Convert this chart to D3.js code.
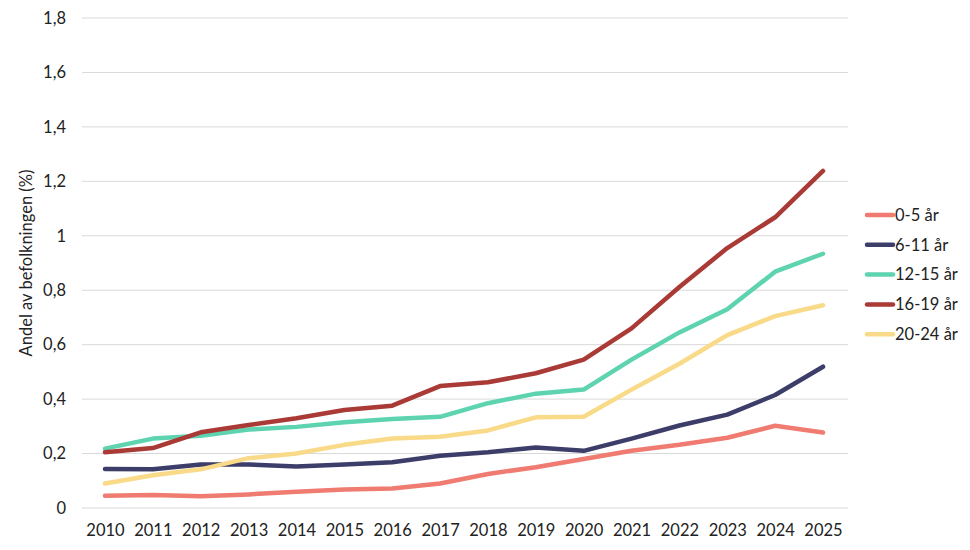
<!DOCTYPE html>
<html>
<head>
<meta charset="utf-8">
<script src="https://cdn.jsdelivr.net/npm/d3@7"></script>
<style>
  body { margin: 0; background: #fff; }
  svg { font-family: Lato, "Open Sans", sans-serif; }
  .tick text { font-size: 16.5px; fill: #222; }
</style>
</head>
<body>
<svg id="chart" width="970" height="550"></svg>
<script>
const YEARS = [2010, 2011, 2012, 2013, 2014, 2015, 2016, 2017, 2018, 2019, 2020, 2021, 2022, 2023, 2024, 2025];
const AGE_0_5 = [0.045, 0.048, 0.043, 0.05, 0.06, 0.068, 0.072, 0.09, 0.125, 0.15, 0.18, 0.21, 0.232, 0.258, 0.302, 0.277];
const AGE_6_11 = [0.143, 0.142, 0.16, 0.16, 0.152, 0.16, 0.168, 0.192, 0.205, 0.222, 0.21, 0.255, 0.303, 0.343, 0.415, 0.519];
const AGE_12_15 = [0.218, 0.255, 0.265, 0.288, 0.298, 0.315, 0.327, 0.335, 0.385, 0.42, 0.435, 0.545, 0.645, 0.73, 0.868, 0.934];
const AGE_16_19 = [0.205, 0.22, 0.278, 0.305, 0.33, 0.36, 0.376, 0.448, 0.462, 0.495, 0.545, 0.66, 0.812, 0.955, 1.068, 1.238];
const AGE_20_24 = [0.09, 0.12, 0.142, 0.183, 0.2, 0.232, 0.255, 0.262, 0.285, 0.333, 0.335, 0.435, 0.53, 0.635, 0.705, 0.745];
const Y_TICKS = [0, 0.2, 0.4, 0.6, 0.8, 1, 1.2, 1.4, 1.6, 1.8];

const series = [
  { name: "0-5 år", values: AGE_0_5, color: "#ef7b71" },
  { name: "6-11 år", values: AGE_6_11, color: "#3c3d69" },
  { name: "12-15 år", values: AGE_12_15, color: "#5dd3b0" },
  { name: "16-19 år", values: AGE_16_19, color: "#a93a35" },
  { name: "20-24 år", values: AGE_20_24, color: "#f9da88" }
];

const svg = d3.select("#chart");
const plot = { left: 82, right: 848, top: 18, bottom: 508 };

const x = d3.scalePoint().domain(YEARS).range([105, 823]);
const y = d3.scaleLinear().domain([0, 1.8]).range([plot.bottom, plot.top]);

// gridlines
svg.append("g")
  .selectAll("line")
  .data(Y_TICKS)
  .join("line")
  .attr("x1", plot.left).attr("x2", plot.right)
  .attr("y1", d => y(d)).attr("y2", d => y(d))
  .attr("stroke", "#d9d9d9")
  .attr("stroke-width", 1);

const fmt = d => String(d).replace(".", ",");

const yAxis = svg.append("g")
  .attr("transform", `translate(${plot.left},0)`)
  .call(d3.axisLeft(y).tickValues(Y_TICKS).tickFormat(fmt).tickSize(0).tickPadding(16));
yAxis.select(".domain").remove();
yAxis.selectAll("text").attr("font-family", "Lato, sans-serif");

const xAxis = svg.append("g")
  .attr("transform", `translate(0,${plot.bottom})`)
  .call(d3.axisBottom(x).tickSize(0).tickPadding(16).tickFormat(d3.format("d")));
xAxis.select(".domain").remove();
xAxis.selectAll("text").attr("font-family", "Lato, sans-serif");

svg.append("text")
  .attr("transform", `translate(32,${(plot.top + plot.bottom) / 2}) rotate(-90)`)
  .attr("text-anchor", "middle")
  .attr("font-size", 16.5)
  .attr("fill", "#222")
  .text("Andel av befolkningen (%)");

const line = d3.line()
  .x((d, i) => x(YEARS[i]))
  .y(d => y(d));

svg.append("g")
  .selectAll("path")
  .data(series)
  .join("path")
  .attr("d", d => line(d.values))
  .attr("fill", "none")
  .attr("stroke", d => d.color)
  .attr("stroke-width", 4.5)
  .attr("stroke-linecap", "round")
  .attr("stroke-linejoin", "round");

// legend
const legend = svg.append("g")
  .selectAll("g")
  .data(series)
  .join("g")
  .attr("transform", (d, i) => `translate(867,${215 + i * 29.8})`);

legend.append("line")
  .attr("x1", 0).attr("x2", 26)
  .attr("stroke", d => d.color)
  .attr("stroke-width", 4.5)
  .attr("stroke-linecap", "round");

legend.append("text")
  .attr("x", 28)
  .attr("dy", "0.35em")
  .attr("font-size", 16.5)
  .attr("fill", "#222")
  .text(d => d.name);
</script>
</body>
</html>
